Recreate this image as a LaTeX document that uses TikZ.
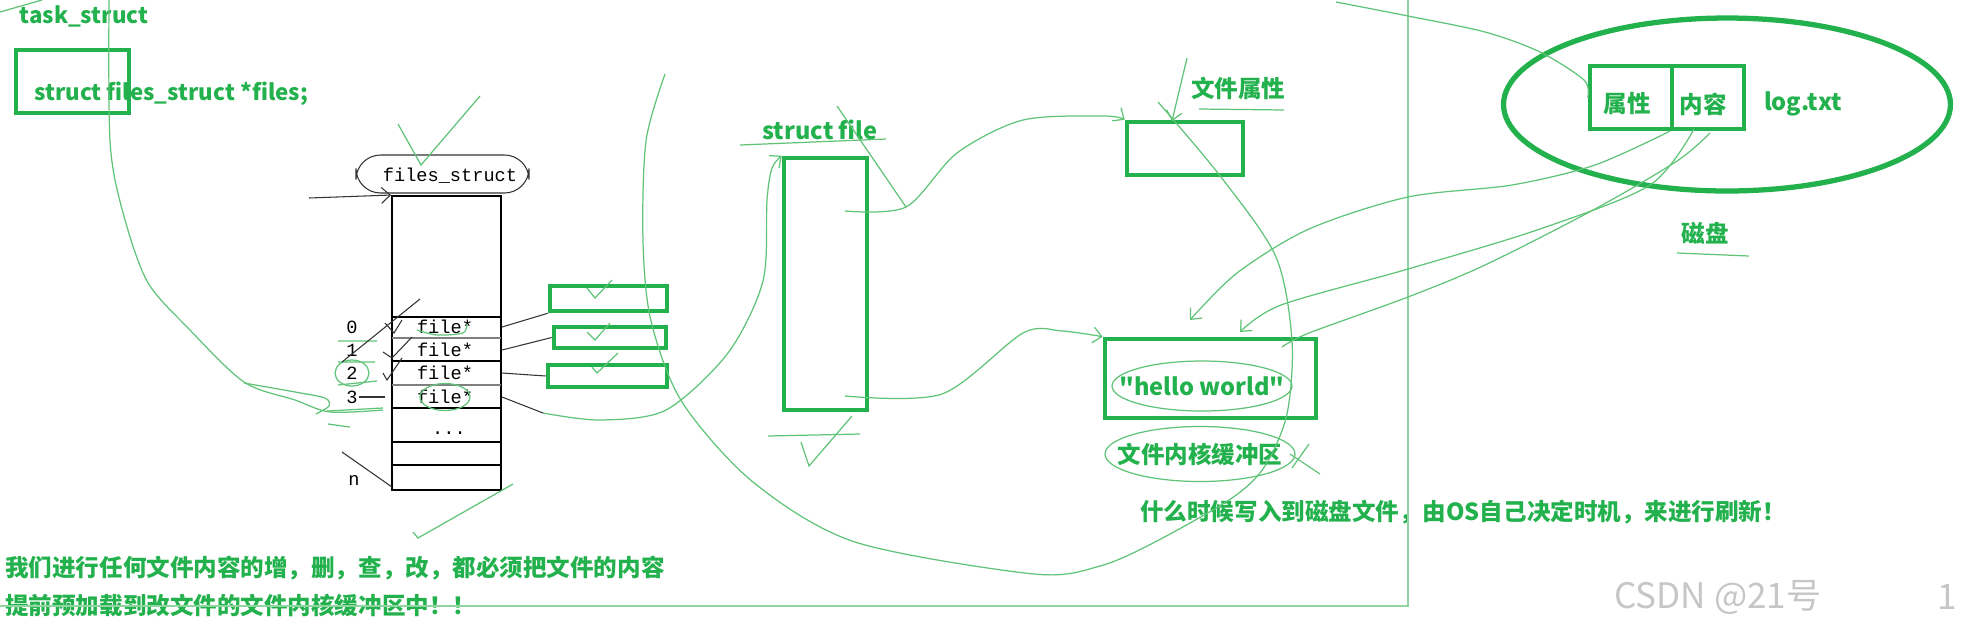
\documentclass[tikz,border=0pt]{standalone}
\usepackage{fontspec}
\usepackage{tikz}
\usetikzlibrary{positioning,fit,shapes.geometric,arrows.meta}
\newfontfamily\cjk{Noto Sans CJK SC}[BoldFont={* Black}]
\newfontfamily\monofnt{Liberation Mono}
\definecolor{pgreen}{RGB}{34,177,76}
\definecolor{lgreen}{RGB}{95,195,120}
\newcommand{\gfont}{\cjk\bfseries\fontsize{13.4}{16}\selectfont}
\newcommand{\lfont}{\cjk\bfseries\fontsize{12.7}{15}\selectfont}
\newcommand{\mfont}{\monofnt\fontsize{10.6}{12}\selectfont}

\begin{document}
\begin{tikzpicture}[
    x=0.02cm, y=-0.02cm,
    >={Straight Barb[length=5pt,width=9pt]},
    gbox/.style={draw=pgreen, line width=2.6pt, inner sep=0pt},
    gtext/.style={text=pgreen, font=\gfont, inner sep=0pt},
    mtext/.style={font=\mfont, inner sep=0pt},
    scrib/.style={draw=lgreen, line width=0.7pt},
    ink/.style={draw=black!80, line width=0.6pt}]

    \useasboundingbox (0,0) rectangle (1962,630);

    \node[gtext, font=\lfont] (tasklbl) at (84,16) {task\_struct};
    \node[gbox, fit={(16,50) (129,113)}] (taskbox) {};
    \node[gtext, font=\lfont, anchor=west] (filesptr) at (34,94) {struct files\_struct *files;};

    \node[ink, rounded corners=14, fit={(356,155) (529,193)}, inner sep=0pt] (cloud) {};
    \node[mtext] (fslbl) at (450,176) {files\_struct};
    \node[draw, line width=1.1pt, fit={(392,196) (501,490)}, inner sep=0pt] (fdtab) {};
    \foreach \y/\c in {317/black, 338/gray, 361/black, 385/gray, 408/black, 442/black, 465/black}
        \draw[line width=1.1pt, draw=\c] (392,\y) -- (501,\y);
    \foreach \y/\n in {327/0, 350/1, 373/2, 397/3} {
        \node[mtext] (fp\n) at (445,\y) {file*};
        \node[mtext] (idx\n) at (352,\y) {\n};
    }
    \node[mtext] (dots) at (449,433) {...};
    \node[mtext] (idxn) at (354,480) {n};
    \coordinate (fsin) at (309,198);
    \draw[ink, ->] (fsin) -- (fdtab.north west);

    \node[gbox, fit={(550,286) (667,311)}] (fobj1) {};
    \node[gbox, fit={(554,327) (666,348)}] (fobj2) {};
    \node[gbox, fit={(548,365) (667,387)}] (fobj3) {};
    \coordinate (r3a) at (543,413);
    \draw[ink] (fdtab.east |- fp0) -- (fobj1.south west);
    \draw[ink] (fdtab.east |- fp1) -- (fobj2.west);
    \draw[ink] (fdtab.east |- fp2) -- (fobj3.west);
    \draw[ink] (fdtab.east |- fp3) -- (r3a);

    \node[gtext, anchor=west] (sfilelbl) at (762,130) {struct file};
    \node[gbox, fit={(784,158) (867,410)}] (sfilebox) {};
    \node[gtext, anchor=west] (attrlbl) at (1191,88) {文件属性};
    \node[gbox, fit={(1127,122) (1243,175)}] (attrbox) {};
    \node[gbox, fit={(1105,339) (1316,418)}] (bufbox) {};
    \node[gtext] (hello) at (1202,386) {"hello world"};
    \node[gtext] (buflbl) at (1200,454) {文件内核缓冲区};
    \node[gtext, anchor=west] (flushlbl) at (1140,512) {什么时候写入到磁盘文件，由OS自己决定时机，来进行刷新！};

    \node[draw=pgreen, line width=3pt, ellipse, minimum width=8.94cm, minimum height=3.46cm, inner sep=0pt] (disk) at (1727,104.5) {};
    \node[gbox, fit={(1590,66) (1672,129)}] (propbox) {};
    \node[gbox, fit={(1672,66) (1744,129)}] (contbox) {};
    \node[gtext] (proplbl) at (1627,104) {属性};
    \node[gtext] (contlbl) at (1703,104) {内容};
    \node[gtext] (logtxt) at (1803,104) {log.txt};
    \node[gtext] (disklbl) at (1705,233) {磁盘};

    \node[gtext, anchor=west] (note1) at (5,568) {我们进行任何文件内容的增，删，查，改，都必须把文件的内容};
    \node[gtext, anchor=west] (note2) at (5,606) {提前预加载到改文件的文件内核缓冲区中！！};
    \node[text=gray!45, font=\cjk\fontsize{20}{24}\selectfont, anchor=west, inner sep=0pt] (mark) at (1614,597) {CSDN @21号};
    \node[text=gray!45, font=\cjk\fontsize{20}{24}\selectfont, inner sep=0pt] (pageno) at (1947,597) {1};

    \coordinate (frtop) at (1408,0);
    \coordinate (frcorner) at (1408,606);
    \coordinate (frleft) at (0,606);
    \draw[draw=lgreen!70, line width=1pt] (frtop) -- (frcorner) -- (frleft);

    \draw[scrib] plot[smooth] coordinates {(109,0) (110,141) (122,209) (147,281) (189,329) (244,382) (295,400) (330,412) (383,410)};
    \draw[scrib] plot[smooth] coordinates {(244,383) (295,392) (325,398) (329,406) (316,414)};
    \draw[scrib] (338,341) -- (377,341) (338,362) -- (375,362) (338,385) -- (377,381) (327,411) -- (383,408) (328,424) -- (350,427);
    \draw[scrib] (idx2) ellipse [x radius=0.34cm, y radius=0.26cm];
    \draw[scrib] (fp3) ellipse [x radius=0.5cm, y radius=0.27cm];
    \draw[scrib] plot[smooth] coordinates {(417,330) (437,335) (463,333) (467,324)};
    \draw[scrib] (0,12) -- (42,0);
    \draw[scrib] (398,124) -- (421,165) -- (480,96);
    \draw[scrib] (587,288) -- (595,298) -- (612,280);
    \draw[scrib] (587,332) -- (595,340) -- (610,323);
    \draw[scrib] (592,367) -- (597,373) -- (618,353);
    \draw[scrib] (413,532) -- (418,538) -- (513,484);

    \draw[ink] (342,362) -- (420,299);
    \draw[ink] (385,323) -- (394,333) -- (402,320);
    \draw[ink] (383,352) -- (392,358) -- (412,337);
    \draw[ink] (383,373) -- (387,380) -- (402,358);
    \draw[ink] (359,397) -- (385,397);
    \draw[ink] (342,452) -- (392,487);

    \draw[scrib,->] plot[smooth] coordinates {(r3a) (600,420) (666,410) (728,353) (763,281) (767,200) (772,168) (sfilebox.north west)};
    \draw[scrib] plot[smooth] coordinates {(665,74) (646,141) (643,241) (651,321) (682,402) (753,482) (855,542) (1034,574) (1100,566) (1155,542) (1232,498) (1265,466) (1287,414) (1292,341) (1276,257) (1221,177) (1158,102)};
    \coordinate (attrin) at (1187,58);
    \coordinate (attrtop) at (1172,121);
    \draw[scrib,->] (attrin) -- (attrtop);
    \draw[scrib,->] plot[smooth] coordinates {(845,211) (906,207) (957,153) (1023,120) (1105,116) (attrbox.north west)};
    \draw[scrib] (837,106) -- (906,207);
    \draw[scrib,->] plot[smooth] coordinates {(845,396) (942,394) (1023,333) (1062,331) (bufbox.north west)};
    \draw[scrib] (740,145) -- (886,139);
    \draw[scrib] (1199,109) -- (1284,110);
    \draw[scrib] (1677,253) -- (1749,256);
    \draw[scrib] (768,436) -- (860,434);
    \draw[scrib] (801,442) -- (809,466) -- (852,416);

    \draw[scrib,->] plot[smooth] coordinates {(contbox.south west) (1595,165) (1512,185) (1408,197) (1309,229) (1237,273) (1190,320)};
    \draw[scrib,->] plot[smooth] coordinates {(1694,129) (1650,185) (1540,229) (1408,269) (1281,305) (1240,332)};
    \draw[scrib] plot[smooth] coordinates {(1710,133) (1677,161) (1595,209) (1485,265) (1408,297) (1309,333) (1282,347)};
    \draw[scrib] plot[smooth] coordinates {(1336,2) (1408,16) (1485,32) (1540,52) (1584,80) (propbox.west)};

    \draw[scrib] (hello) ellipse [x radius=1.8cm, y radius=0.5cm];
    \draw[scrib] (buflbl) ellipse [x radius=1.9cm, y radius=0.55cm];
    \draw[scrib] (1290,454) -- (1320,474) (1309,444) -- (1292,468);

\end{tikzpicture}
\end{document}
